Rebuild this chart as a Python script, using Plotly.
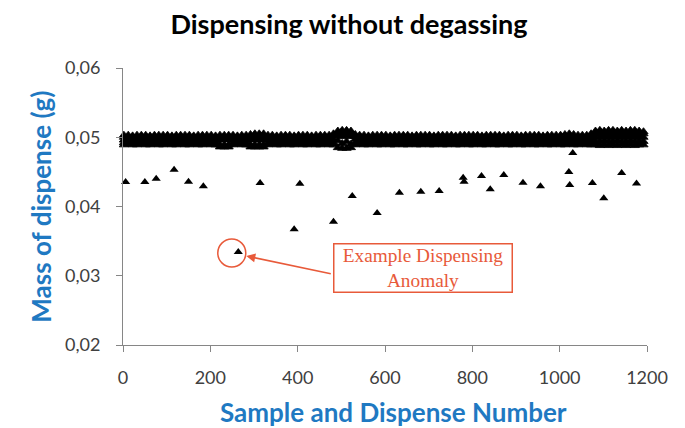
import plotly.graph_objects as go

# ---------------- data ----------------
x_tick_vals = [0, 200, 400, 600, 800, 1000, 1200]
x_tick_labels = ["0", "200", "400", "600", "800", "1000", "1200"]
y_tick_vals = [0.02, 0.03, 0.04, 0.05, 0.06]
y_tick_labels = ["0,02", "0,03", "0,04", "0,05", "0,06"]

# dense band of normal dispenses, read as five overlapping rows (sample numbers)
band_x = list(range(2, 1200, 10))
band_a = [
    0.0503, 0.0503, 0.0502, 0.0503, 0.0503, 0.0503, 0.0502, 0.0503, 0.0503, 0.0503,
    0.0503, 0.0502, 0.0503, 0.0503, 0.0503, 0.0503, 0.0502, 0.0503, 0.0503, 0.0503,
    0.0503, 0.0502, 0.0503, 0.0503, 0.0503, 0.0503, 0.0502, 0.0503, 0.0503, 0.0504,
    0.0505, 0.0505, 0.0505, 0.0503, 0.0503, 0.0502, 0.0503, 0.0503, 0.0503, 0.0502,
    0.0503, 0.0503, 0.0503, 0.0502, 0.0503, 0.0503, 0.0503, 0.0503, 0.0505, 0.0509,
    0.0510, 0.0510, 0.0509, 0.0504, 0.0503, 0.0503, 0.0502, 0.0503, 0.0503, 0.0503,
    0.0503, 0.0502, 0.0503, 0.0503, 0.0503, 0.0503, 0.0502, 0.0503, 0.0503, 0.0503,
    0.0503, 0.0502, 0.0503, 0.0503, 0.0503, 0.0503, 0.0502, 0.0503, 0.0503, 0.0503,
    0.0503, 0.0503, 0.0502, 0.0503, 0.0503, 0.0503, 0.0503, 0.0502, 0.0503, 0.0503,
    0.0503, 0.0502, 0.0503, 0.0503, 0.0503, 0.0503, 0.0502, 0.0503, 0.0503, 0.0503,
    0.0503, 0.0504, 0.0505, 0.0504, 0.0503, 0.0503, 0.0503, 0.0505, 0.0509, 0.0510,
    0.0509, 0.0510, 0.0510, 0.0509, 0.0510, 0.0509, 0.0510, 0.0510, 0.0509, 0.0508,
]
band_b = [
    0.0500, 0.0499, 0.0500, 0.0500, 0.0501, 0.0500, 0.0499, 0.0500, 0.0500, 0.0500,
    0.0499, 0.0500, 0.0500, 0.0501, 0.0500, 0.0500, 0.0499, 0.0500, 0.0500, 0.0500,
    0.0500, 0.0499, 0.0500, 0.0500, 0.0500, 0.0501, 0.0500, 0.0499, 0.0500, 0.0500,
    0.0501, 0.0501, 0.0501, 0.0500, 0.0499, 0.0500, 0.0500, 0.0500, 0.0499, 0.0500,
    0.0500, 0.0500, 0.0501, 0.0500, 0.0499, 0.0500, 0.0500, 0.0500, 0.0502, 0.0506,
    0.0507, 0.0507, 0.0506, 0.0501, 0.0500, 0.0499, 0.0500, 0.0500, 0.0500, 0.0499,
    0.0500, 0.0499, 0.0500, 0.0500, 0.0501, 0.0500, 0.0499, 0.0500, 0.0500, 0.0500,
    0.0499, 0.0500, 0.0500, 0.0501, 0.0500, 0.0500, 0.0499, 0.0500, 0.0500, 0.0500,
    0.0500, 0.0499, 0.0500, 0.0500, 0.0500, 0.0501, 0.0500, 0.0499, 0.0500, 0.0500,
    0.0500, 0.0500, 0.0501, 0.0500, 0.0499, 0.0500, 0.0500, 0.0500, 0.0499, 0.0500,
    0.0500, 0.0501, 0.0502, 0.0501, 0.0500, 0.0500, 0.0500, 0.0502, 0.0505, 0.0505,
    0.0506, 0.0505, 0.0505, 0.0506, 0.0505, 0.0505, 0.0506, 0.0505, 0.0505, 0.0505,
]
band_c = [
    0.0496, 0.0497, 0.0496, 0.0496, 0.0497, 0.0496, 0.0496, 0.0496, 0.0497, 0.0496,
    0.0496, 0.0497, 0.0496, 0.0496, 0.0496, 0.0497, 0.0496, 0.0496, 0.0497, 0.0496,
    0.0496, 0.0496, 0.0496, 0.0497, 0.0496, 0.0496, 0.0497, 0.0496, 0.0496, 0.0496,
    0.0497, 0.0496, 0.0496, 0.0497, 0.0496, 0.0496, 0.0496, 0.0497, 0.0496, 0.0496,
    0.0497, 0.0496, 0.0496, 0.0496, 0.0497, 0.0496, 0.0496, 0.0497, 0.0497, 0.0502,
    0.0501, 0.0502, 0.0501, 0.0497, 0.0496, 0.0496, 0.0497, 0.0496, 0.0496, 0.0496,
    0.0496, 0.0497, 0.0496, 0.0496, 0.0497, 0.0496, 0.0496, 0.0496, 0.0497, 0.0496,
    0.0496, 0.0497, 0.0496, 0.0496, 0.0496, 0.0497, 0.0496, 0.0496, 0.0497, 0.0496,
    0.0496, 0.0496, 0.0496, 0.0497, 0.0496, 0.0496, 0.0497, 0.0496, 0.0496, 0.0496,
    0.0497, 0.0496, 0.0496, 0.0497, 0.0496, 0.0496, 0.0496, 0.0497, 0.0496, 0.0496,
    0.0496, 0.0497, 0.0497, 0.0496, 0.0496, 0.0497, 0.0496, 0.0498, 0.0500, 0.0500,
    0.0501, 0.0500, 0.0500, 0.0501, 0.0500, 0.0500, 0.0501, 0.0500, 0.0500, 0.0500,
]
band_d = [
    0.0492, 0.0493, 0.0492, 0.0492, 0.0493, 0.0492, 0.0492, 0.0493, 0.0492, 0.0492,
    0.0493, 0.0492, 0.0492, 0.0493, 0.0492, 0.0492, 0.0493, 0.0492, 0.0492, 0.0493,
    0.0492, 0.0492, 0.0489, 0.0489, 0.0489, 0.0492, 0.0493, 0.0492, 0.0492, 0.0489,
    0.0489, 0.0489, 0.0489, 0.0492, 0.0493, 0.0492, 0.0492, 0.0493, 0.0492, 0.0492,
    0.0493, 0.0492, 0.0492, 0.0493, 0.0492, 0.0492, 0.0493, 0.0492, 0.0492, 0.0495,
    0.0491, 0.0494, 0.0490, 0.0492, 0.0493, 0.0492, 0.0492, 0.0493, 0.0492, 0.0492,
    0.0492, 0.0493, 0.0492, 0.0492, 0.0493, 0.0492, 0.0492, 0.0493, 0.0492, 0.0492,
    0.0493, 0.0492, 0.0492, 0.0493, 0.0492, 0.0492, 0.0493, 0.0492, 0.0492, 0.0493,
    0.0492, 0.0493, 0.0492, 0.0492, 0.0493, 0.0492, 0.0492, 0.0493, 0.0492, 0.0492,
    0.0493, 0.0492, 0.0492, 0.0493, 0.0492, 0.0492, 0.0493, 0.0492, 0.0492, 0.0493,
    0.0492, 0.0492, 0.0493, 0.0492, 0.0492, 0.0493, 0.0492, 0.0493, 0.0494, 0.0494,
    0.0495, 0.0494, 0.0494, 0.0495, 0.0494, 0.0494, 0.0495, 0.0494, 0.0494, 0.0494,
]
band_e = [
    0.0489, 0.0490, 0.0489, 0.0489, 0.0490, 0.0489, 0.0489, 0.0490, 0.0489, 0.0489,
    0.0490, 0.0489, 0.0489, 0.0490, 0.0489, 0.0489, 0.0490, 0.0489, 0.0489, 0.0490,
    0.0489, 0.0489, 0.0486, 0.0486, 0.0486, 0.0489, 0.0490, 0.0489, 0.0489, 0.0486,
    0.0486, 0.0486, 0.0486, 0.0489, 0.0490, 0.0489, 0.0489, 0.0490, 0.0489, 0.0489,
    0.0490, 0.0489, 0.0489, 0.0490, 0.0489, 0.0489, 0.0490, 0.0489, 0.0489, 0.0485,
    0.0484, 0.0484, 0.0485, 0.0489, 0.0490, 0.0489, 0.0489, 0.0490, 0.0489, 0.0489,
    0.0490, 0.0489, 0.0489, 0.0490, 0.0489, 0.0489, 0.0490, 0.0489, 0.0489, 0.0490,
    0.0489, 0.0489, 0.0490, 0.0489, 0.0489, 0.0490, 0.0489, 0.0489, 0.0490, 0.0489,
    0.0489, 0.0490, 0.0489, 0.0489, 0.0490, 0.0489, 0.0489, 0.0490, 0.0489, 0.0489,
    0.0490, 0.0489, 0.0489, 0.0490, 0.0489, 0.0489, 0.0490, 0.0489, 0.0489, 0.0490,
    0.0489, 0.0489, 0.0490, 0.0489, 0.0489, 0.0490, 0.0489, 0.0489, 0.0489, 0.0488,
    0.0489, 0.0488, 0.0489, 0.0488, 0.0489, 0.0488, 0.0489, 0.0488, 0.0489, 0.0489,
]

# anomalous (low) dispenses
anom_x = [6, 50, 76, 117, 150, 184, 264, 314, 405, 392, 482, 525, 582, 633, 682,
          724, 779, 781, 821, 841, 872, 916, 956, 1021, 1023, 1030, 1075, 1101, 1142, 1176]
anom_y = [0.04354, 0.04354, 0.04401, 0.04531, 0.04358, 0.04292, 0.03343, 0.04339,
          0.04329, 0.03671, 0.03781, 0.04152, 0.03906, 0.04199, 0.04214, 0.04224,
          0.04416, 0.04358, 0.04440, 0.04248, 0.04455, 0.04344, 0.04292, 0.04498,
          0.04310, 0.04773, 0.04339, 0.04118, 0.04484, 0.04332]
example_index = 6  # the circled "Example Dispensing Anomaly"

title_text = "Dispensing without degassing"
x_title = "Sample and Dispense Number"
y_title = "Mass of dispense (g)"
note_text = "Example Dispensing<br>Anomaly"

# ---------------- style ----------------
BLUE = "#1f79c2"
RED = "#e85a3a"
AXIS = "#868686"
FONT = "Lato, Open Sans, sans-serif"
TICKFONT = dict(family=FONT, size=18, color="#404040")
marker = dict(symbol="triangle-up", size=8, color="black", line=dict(width=0))
band_marker = dict(symbol="triangle-up", size=8, color="black",
                   line=dict(width=0.8, color="black"))

fig = go.Figure()
for ys in (band_a, band_b, band_c, band_d, band_e):
    fig.add_trace(go.Scatter(x=band_x, y=ys, mode="markers", marker=band_marker,
                             showlegend=False, cliponaxis=False, hoverinfo="x+y"))
fig.add_trace(go.Scatter(x=anom_x, y=anom_y, mode="markers", marker=marker,
                         showlegend=False, cliponaxis=False, hoverinfo="x+y"))

ex_x = anom_x[example_index]
ex_y = anom_y[example_index]

# circle around the example anomaly
fig.add_shape(type="circle", xref="x", yref="y", xsizemode="pixel", ysizemode="pixel",
              xanchor=ex_x, yanchor=ex_y, x0=-20.5, x1=7.5, y0=-15, y1=13,
              line=dict(color=RED, width=1.5))

# arrow from note box to anomaly
fig.add_annotation(x=ex_x, y=ex_y, xref="x", yref="y", text="", showarrow=True,
                   xshift=8, yshift=-4, ax=86, ay=18, arrowhead=2, arrowsize=1.2,
                   arrowwidth=1.5, arrowcolor=RED, standoff=0)

# note box
fig.add_annotation(x=686, y=0.03115, xref="x", yref="y", text=note_text, showarrow=False,
                   font=dict(family="Liberation Serif, Times New Roman, serif", size=19.3, color=RED),
                   bordercolor=RED, borderwidth=1.5, borderpad=0, bgcolor="white",
                   width=177, height=47, align="center", valign="middle")

# axis titles
fig.add_annotation(x=0.517, y=-0.242, xref="paper", yref="paper", text=f"<b>{x_title}</b>",
                   showarrow=False, xanchor="center", yanchor="middle",
                   font=dict(family=FONT, size=26, color=BLUE))
fig.add_annotation(x=-0.158, y=0.50, xref="paper", yref="paper", text=f"<b>{y_title}</b>",
                   showarrow=False, xanchor="center", yanchor="middle", textangle=-90,
                   font=dict(family=FONT, size=26, color=BLUE))

fig.update_layout(
    width=685, height=428, autosize=False,
    margin=dict(l=123, r=38, t=68, b=83),
    paper_bgcolor="white", plot_bgcolor="white",
    title=dict(text=f"<b>{title_text}</b>", x=0.5095, xanchor="center",
               y=0.942, yanchor="middle", yref="container",
               font=dict(family=FONT, size=27, color="black")),
    xaxis=dict(range=[0, 1200], tickvals=x_tick_vals, ticktext=x_tick_labels,
               showline=True, linecolor=AXIS, linewidth=1, ticks="outside", ticklen=6,
               tickcolor=AXIS, showgrid=False, zeroline=False, tickfont=TICKFONT,
               ticklabelstandoff=10),
    yaxis=dict(range=[0.02, 0.06], tickvals=y_tick_vals, ticktext=y_tick_labels,
               showline=True, linecolor=AXIS, linewidth=1, ticks="outside", ticklen=6,
               tickcolor=AXIS, showgrid=False, zeroline=False, tickfont=TICKFONT,
               ticklabelstandoff=12),
)

fig.write_html("out.html", config={"displayModeBar": False},
               post_script="document.body.style.margin='0';document.body.style.overflow='hidden';")
